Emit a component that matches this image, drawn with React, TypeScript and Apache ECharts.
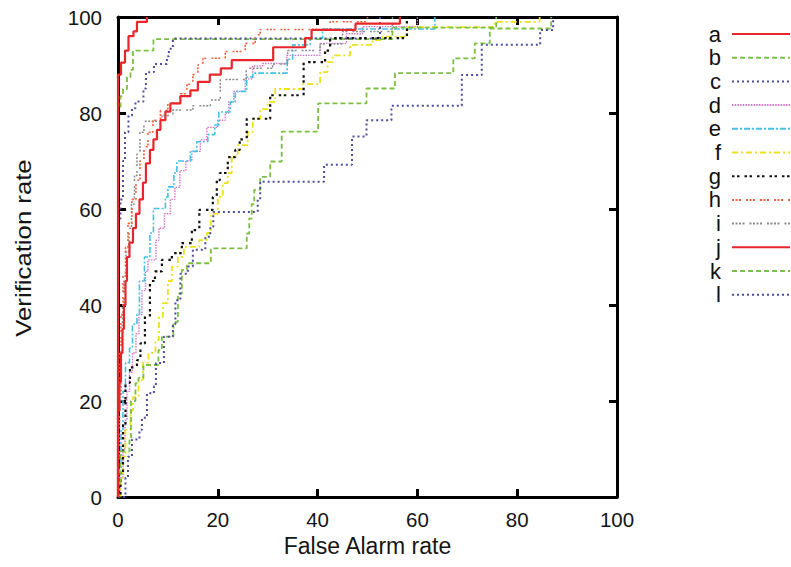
import React, { useEffect, useRef } from "react";
import * as echarts from "echarts";

// Each curve: [false alarm rate, verification rate] at each jump (drawn as steps)
const curveA: [number, number][] = [[0, 0], [0, 88], [0.6, 90.5], [1.4, 93], [2.1, 96], [3.1, 97], [3.8, 99], [5.8, 100]];
const curveB: [number, number][] = [[0, 0], [0, 81], [0.5, 83.5], [1, 85], [1.8, 87.5], [2.5, 89], [3, 93], [7.1, 95.4], [55, 97.8], [75.8, 100]];
const curveC: [number, number][] = [[0, 0], [0, 58], [0.5, 62], [1, 70], [1.4, 76], [2.1, 79.5], [2.8, 81], [3.5, 82.4], [5.1, 85.1], [5.6, 88.5], [7.2, 90.2], [9.8, 91.8], [10.2, 93.4], [11, 95.5], [52.5, 100]];
const curveD: [number, number][] = [[0, 0], [0.5, 4], [1, 10], [1.4, 16], [1.8, 22], [2.3, 26], [2.9, 30], [3.6, 34], [4.2, 38], [4.8, 43], [5.5, 47], [6, 49.4], [7.6, 53.5], [8.2, 56], [9.3, 59], [10.5, 62], [11.4, 64.5], [12.4, 68], [13.6, 70], [14.8, 72], [16.5, 74.4], [17.8, 77], [20, 78.5], [21.5, 80], [22.2, 82.3], [23.2, 84.5], [25.5, 87.1], [27, 89.8], [29, 90.3], [33.8, 92], [40.5, 94.5], [45.8, 96.5], [49, 98], [60, 100]];
const curveE: [number, number][] = [[0, 0], [0.3, 6], [0.6, 14], [1, 22], [1.5, 28], [2.3, 31], [2.9, 36], [3.8, 38], [4.3, 45], [5.3, 50], [6.4, 55], [7.1, 60.1], [9.5, 62.5], [10, 64.6], [11.2, 67.5], [11.8, 70], [14.5, 72], [15.8, 74], [18, 75.5], [19.4, 77.5], [20.2, 80.2], [22.5, 82.3], [23.5, 84.5], [25.8, 87.5], [27, 88.3], [33.9, 91.2], [35, 94.2], [38.5, 95.6], [41, 97.5], [63.5, 100]];
const curveF: [number, number][] = [[0, 0], [0.5, 4], [1, 8.4], [1.5, 14], [2.5, 18], [3, 20.8], [4.1, 24.4], [5, 28], [6.1, 30], [7.5, 32.7], [8.2, 37.5], [9, 40.4], [10, 45], [10.8, 48], [12, 50], [13.2, 52.1], [16.3, 53.5], [17.8, 55], [18.6, 59], [20, 62.5], [21, 65.4], [22, 67.5], [22.8, 71], [24, 73.3], [26, 76], [27, 78.8], [28.5, 80.8], [30, 82.3], [31.5, 85], [37, 86], [40.5, 88.5], [42, 90.6], [43, 92], [46.5, 94.2], [51, 95.2], [53, 95.9], [58, 97.9], [75.5, 99], [84.5, 100]];
const curveG: [number, number][] = [[0, 0], [0.5, 5], [1, 15], [1.5, 23.8], [2.4, 27], [3.8, 28.5], [4.5, 32], [5.4, 37.5], [6.4, 45], [7.4, 47], [8.8, 49.4], [10.8, 50.8], [12.8, 52.9], [14.8, 55.6], [16.3, 59.8], [19, 62.5], [19.8, 66], [20.4, 67.5], [22, 70.8], [23.5, 72.3], [24.4, 74.5], [25.8, 78.8], [30.5, 83.7], [37.2, 90.6], [41.5, 93], [42.5, 95.6], [57.9, 100]];
const curveH: [number, number][] = [[0, 0], [0, 22], [0.3, 30], [0.6, 38], [1, 46], [1.5, 52], [2, 57], [2.8, 62], [3.6, 66], [4.4, 70], [5.2, 73], [6, 76], [7, 78.5], [8.5, 80.5], [10, 82], [12.5, 84], [13.8, 86], [15, 88], [16, 90], [17, 91.4], [21.5, 92.8], [25.5, 94.5], [27.5, 96.3], [28.5, 97.4], [42.5, 99], [50, 100]];
const curveI: [number, number][] = [[0, 0], [0, 8], [0.3, 20], [0.6, 30], [0.9, 40], [1.2, 46], [1.6, 51], [2.2, 56], [2.7, 61], [3.3, 67], [3.8, 72], [4.4, 76], [5.2, 78.3], [8.8, 79.5], [11, 80.6], [15, 81.5], [18.5, 82.7], [20.5, 87], [25.7, 89.3], [31, 90.2], [34, 93], [40.5, 94.4], [45, 97], [55, 100]];
const curveJ: [number, number][] = [[0, 0], [0, 18], [0.3, 24], [0.6, 30], [0.9, 35], [1.2, 40], [1.5, 45], [1.8, 50], [2.3, 53], [3, 56], [3.6, 59], [4.3, 62], [5, 65.5], [5.6, 69.5], [6.4, 72.3], [7.1, 74.5], [7.8, 76.5], [8.5, 78.5], [9.5, 80.3], [10.5, 82], [12.5, 83.5], [14.5, 84.7], [16, 86.5], [18.4, 88], [20.6, 89.3], [22.8, 91], [31.1, 93.7], [37.5, 95.6], [38.8, 97.3], [47.6, 98.6], [56.5, 100]];
const curveK: [number, number][] = [[0, 0], [0, 3], [0.5, 9.5], [2.3, 12], [2.6, 20], [3.5, 23.7], [4.1, 24.8], [5.1, 27.5], [8.1, 30.6], [8.8, 33.4], [11.1, 36.5], [12, 42.4], [12.8, 47.3], [13.8, 48.7], [18.6, 51.8], [25.8, 54.9], [26.3, 58], [26.8, 61], [27.3, 64], [28.5, 66.7], [30.5, 69.9], [32.8, 76.1], [40.1, 82], [49.8, 85.1], [55.5, 88.3], [67.2, 91.4], [71.5, 94.5], [74.5, 97.6], [86.8, 100]];
const curveL: [number, number][] = [[0, 0], [1.5, 4], [2, 8.4], [2.8, 12], [4.3, 14], [4.8, 16.5], [5.8, 21.6], [7.2, 23], [7.6, 27.9], [9.2, 33.4], [11, 36], [11.5, 41], [12.5, 46.5], [14, 48], [15, 51.5], [17.5, 54.2], [18.5, 56.3], [19.1, 59.4], [28, 62], [28.5, 65.7], [41.3, 69.2], [46.9, 75.1], [49.8, 78.5], [54.8, 81.5], [68.9, 87.9], [72.9, 94.2], [84.6, 97.3], [87.2, 100]];

const seriesNames = ["a", "b", "c", "d", "e", "f", "g", "h", "i", "j", "k", "l"];
const seriesData = [curveA, curveB, curveC, curveD, curveE, curveF, curveG, curveH, curveI, curveJ, curveK, curveL];
const tickValues = [0, 20, 40, 60, 80, 100];
const xTitle = "False Alarm rate";
const yTitle = "Verification rate";

const FONT = "'Liberation Sans', Arial, Helvetica, sans-serif";

const RED = "#e8272c";
const GREEN = "#7cc043";
const BLUE = "#4d4d9e";
const styles: { color: string; width: number; type: any; z: number }[] = [
  { color: RED, width: 2.2, type: "solid", z: 5 },
  { color: GREEN, width: 1.8, type: [5, 3], z: 3 },
  { color: BLUE, width: 2, type: [2, 3], z: 3 },
  { color: "#d373cc", width: 1.4, type: [1.5, 1.2], z: 2 },
  { color: "#45c1e3", width: 1.6, type: [6, 2, 2, 2], z: 2 },
  { color: "#ece21c", width: 1.8, type: [6, 3, 2, 3], z: 2 },
  { color: "#111111", width: 2.2, type: [2.5, 2.5, 2.5, 5], z: 3 },
  { color: "#f0603a", width: 1.6, type: [2, 1.5, 2, 1.5, 2, 5], z: 3 },
  { color: "#8a8a8a", width: 1.5, type: [2, 1.5, 2, 1.5, 2, 1.5, 2, 5], z: 2 },
  { color: RED, width: 2.2, type: "solid", z: 5 },
  { color: GREEN, width: 1.8, type: [5, 3], z: 3 },
  { color: BLUE, width: 2, type: [2, 3], z: 3 },
];

export default function App() {
  const ref = useRef<HTMLDivElement>(null);
  useEffect(() => {
    if (!ref.current) return;
    const chart = echarts.init(ref.current, null, { renderer: "svg" });
    const axisCommon = {
      type: "value",
      min: 0,
      max: 100,
      interval: 20,
      splitLine: { show: false },
      axisLine: { show: true, onZero: false, lineStyle: { color: "#000", width: 3 } },
      axisTick: { show: true, inside: true, length: 8, lineStyle: { color: "#000", width: 3 } },
    };
    const labelStyle = {
      fontSize: 20.5,
      color: "#151515",
      fontFamily: FONT,
      formatter: (v: number) => (tickValues.includes(v) ? String(v) : ""),
    };
    const option: any = {
      animation: false,
      backgroundColor: "#ffffff",
      textStyle: { fontFamily: FONT },
      grid: { left: 118, right: 174, top: 17, bottom: 70, containLabel: false },
      legend: {
        orient: "vertical",
        right: 0,
        top: 23,
        padding: 0,
        align: "right",
        itemWidth: 58,
        itemHeight: 14,
        itemGap: 1.7,
        itemStyle: { opacity: 0 },
        textStyle: { fontSize: 22, lineHeight: 22, color: "#111", fontFamily: FONT, padding: [0, 6, 0, 0] },
        data: seriesNames,
      },
      xAxis: [
        {
          ...axisCommon,
          position: "bottom",
          axisLabel: { ...labelStyle, margin: 12 },
          name: xTitle,
          nameLocation: "middle",
          nameGap: 28,
          nameTextStyle: { fontSize: 23, color: "#151515", fontFamily: FONT },
        },
        { ...axisCommon, position: "top", axisLabel: { show: false } },
      ],
      yAxis: [
        { ...axisCommon, position: "left", axisLabel: { ...labelStyle, margin: 16 } },
        { ...axisCommon, position: "right", axisLabel: { show: false } },
      ],
      graphic: [
        {
          type: "text",
          x: 23,
          y: 248,
          rotation: Math.PI / 2,
          scaleX: 1.17,
          style: {
            text: yTitle,
            fontSize: 22,
            fontFamily: FONT,
            fill: "#151515",
            align: "center",
            verticalAlign: "middle",
          },
        },
      ],
      series: seriesNames.map((name, i) => ({
        name,
        type: "line",
        data: seriesData[i],
        step: "end",
        symbol: "none",
        xAxisIndex: 0,
        yAxisIndex: 0,
        z: styles[i].z,
        lineStyle: { color: styles[i].color, width: styles[i].width, type: styles[i].type },
        itemStyle: { color: styles[i].color },
      })),
    };
    chart.setOption(option);
    return () => chart.dispose();
  }, []);
  return <div ref={ref} style={{ position: "fixed", left: 0, top: 0, width: 791, height: 567 }} />;
}
